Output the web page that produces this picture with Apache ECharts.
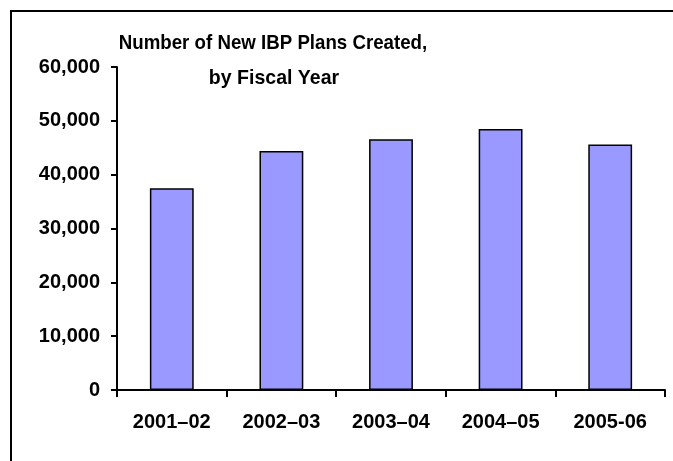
<!DOCTYPE html>
<html>
<head>
<meta charset="utf-8">
<script src="https://cdn.jsdelivr.net/npm/echarts@6/dist/echarts.min.js"></script>
<style>
html,body{margin:0;padding:0;background:#fff;}
#chart{width:673px;height:461px;}
</style>
</head>
<body>
<div id="chart"></div>
<script>
var titleLines = ["Number of New IBP Plans Created,", "by Fiscal Year"];
var categories = ["2001\u201302", "2002\u201303", "2003\u201304", "2004\u201305", "2005-06"];
var plansCreated = [37500, 44400, 46600, 48500, 45600];
var yTicks = [0, 10000, 20000, 30000, 40000, 50000, 60000];

var chart = echarts.init(document.getElementById('chart'), null, {renderer: 'canvas'});
var FONT = '"Liberation Sans", Arial, sans-serif';
var titleStyle = {fontFamily: FONT, fontWeight: 'bold', fontSize: 21, fill: '#000', align: 'center', verticalAlign: 'middle'};
chart.setOption({
  animation: false,
  backgroundColor: '#ffffff',
  graphic: [{
    type: 'rect',
    silent: true,
    shape: {x: 11, y: 11, width: 720, height: 520},
    style: {fill: 'none', stroke: '#000', lineWidth: 2}
  }, {
    type: 'text', silent: true, x: 273, y: 43, scaleX: 0.89,
    style: Object.assign({text: titleLines[0]}, titleStyle)
  }, {
    type: 'text', silent: true, x: 274, y: 78, scaleX: 0.93,
    style: Object.assign({text: titleLines[1]}, titleStyle)
  }],
  grid: {left: 117, right: 8, top: 67, bottom: 71, containLabel: false},
  xAxis: {
    type: 'category',
    data: categories,
    boundaryGap: true,
    axisLine: {lineStyle: {color: '#000', width: 2}},
    axisTick: {show: true, alignWithLabel: false, length: 7, lineStyle: {color: '#000', width: 2}},
    axisLabel: {fontFamily: FONT, fontWeight: 'bold', fontSize: 20, color: '#000', margin: 22, interval: 0}
  },
  yAxis: {
    type: 'value',
    min: yTicks[0],
    max: yTicks[yTicks.length - 1],
    interval: yTicks[1] - yTicks[0],
    splitLine: {show: false},
    axisLine: {show: true, lineStyle: {color: '#000', width: 2}},
    axisTick: {show: true, length: 6, lineStyle: {color: '#000', width: 2}},
    axisLabel: {
      fontFamily: FONT, fontWeight: 'bold', fontSize: 20, color: '#000', margin: 17,
      formatter: function (v) { return v.toLocaleString('en-US'); }
    }
  },
  series: [{
    type: 'bar',
    data: plansCreated,
    barCategoryGap: '60%',
    itemStyle: {color: '#9999FF', borderColor: '#000', borderWidth: 1.5}
  }]
});
</script>
</body>
</html>
